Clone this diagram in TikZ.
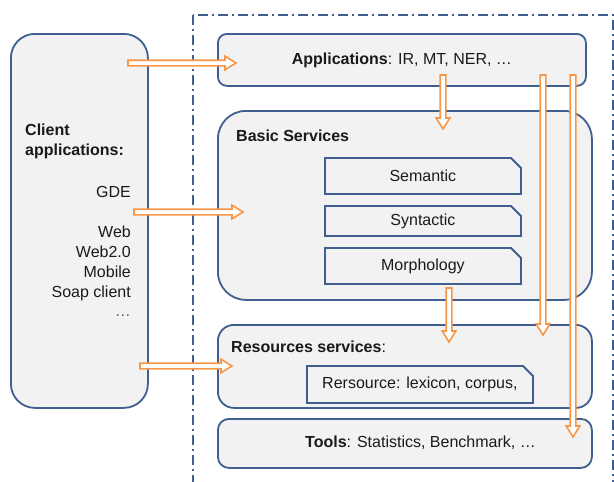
\documentclass[tikz,border=0pt]{standalone}
\usepackage{fontspec}
\setmainfont{Liberation Sans}
\usetikzlibrary{calc,shapes.misc}

\definecolor{bord}{HTML}{3E5F8F}
\definecolor{boxfill}{HTML}{F2F2F2}
\definecolor{arrowor}{HTML}{F79646}
\definecolor{ink}{HTML}{1A1A1A}

\tikzset{
  panel/.style={draw=bord, fill=boxfill, line width=1.8pt, rectangle, inner sep=0pt,
    anchor=north west, text=ink},
  module/.style={draw=bord, fill=boxfill, line width=1.8pt, chamfered rectangle,
    chamfered rectangle corners=north east, chamfered rectangle xsep=5pt,
    chamfered rectangle ysep=5pt, inner sep=0pt, anchor=north west, text=ink,
    font=\fontsize{16}{19}\selectfont},
  label/.style={inner sep=0pt, text=ink, font=\fontsize{16}{19}\selectfont},
  frame/.style={draw=bord, line width=1.4pt, dash pattern=on 10pt off 4pt on 2pt off 4pt},
  % hollow block arrow built between two points
  hollow/.style={draw=arrowor, fill=white, line width=1.6pt, line join=miter,
    to path={let \p1=(\tikztostart), \p2=(\tikztotarget), \p3=($(\p2)!11pt!(\p1)$) in
      ($(\p1)!2.8pt!90:(\p2)$) -- ($(\p3)!2.8pt!-90:(\p1)$) -- ($(\p3)!6.8pt!-90:(\p1)$)
      -- (\p2) -- ($(\p3)!6.8pt!90:(\p1)$) -- ($(\p3)!2.8pt!90:(\p1)$)
      -- ($(\p1)!2.8pt!-90:(\p2)$) -- cycle}}
}

\begin{document}
\begin{tikzpicture}[x=1pt, y=-1pt]
\useasboundingbox (0,0) rectangle (614,482);

% server side frame
\draw[frame] (193,15) rectangle (613,482.5);

% client side
\node[panel, rounded corners=24pt, minimum width=137pt, minimum height=374pt] (client) at (10,33) {};
\node[label, anchor=base west, font=\fontsize{16}{19}\selectfont\bfseries] (cl1) at (25,135) {Client};
\node[label, anchor=base west, font=\fontsize{16}{19}\selectfont\bfseries] (cl2) at (25,155) {applications:};
\node[label, anchor=base east] (gde) at (131,197) {GDE};
\node[label, anchor=base east] (web) at (131,237) {Web};
\node[label, anchor=base east] (web2) at (131,257) {Web2.0};
\node[label, anchor=base east] (mob) at (131,277) {Mobile};
\node[label, anchor=base east] (soap) at (131,297) {Soap client};
\node[label, anchor=base east, text=ink!70] (etc) at (131,316) {\ldots};

% server layers
\node[panel, rounded corners=9pt, minimum width=368pt, minimum height=52pt,
  font=\fontsize{16}{19}\selectfont] (apps) at (217,33) {\textbf{Applications}: IR, MT, NER, \ldots};
\node[panel, rounded corners=28pt, minimum width=374pt, minimum height=189pt] (basic) at (217,110) {};
\node[label, anchor=base west, font=\fontsize{16}{19}\selectfont\bfseries] (basict) at (236,141) {Basic Services};
\node[module, minimum width=196pt, minimum height=36pt] (sem) at (324,157) {Semantic};
\node[module, minimum width=196pt, minimum height=30pt] (syn) at (324,205) {Syntactic};
\node[module, minimum width=196pt, minimum height=36pt] (mor) at (324,247) {Morphology};

\node[panel, rounded corners=16pt, minimum width=374pt, minimum height=83pt] (res) at (217,324) {};
\node[label, anchor=base west] (rest) at (231,352) {\textbf{Resources services}:};
\node[module, minimum width=226pt, minimum height=37pt] (lex) at (306,365) {Rersource: lexicon, corpus,};

\node[panel, rounded corners=11pt, minimum width=374pt, minimum height=49pt] (tools) at (217,418) {};
\node[label, anchor=base west] (toolst) at (305,447) {\textbf{Tools}: Statistics, Benchmark, \ldots};

% arrow end points
\coordinate (c1s) at (128,63);  \coordinate (c1e) at (236,63);
\coordinate (c2s) at (134,212); \coordinate (c2e) at (243,212);
\coordinate (c3s) at (140,366); \coordinate (c3e) at (232,366);
\coordinate (d1s) at (443,75);  \coordinate (d1e) at (443,129);
\coordinate (d2s) at (449,288); \coordinate (d2e) at (449,342);
\coordinate (d3s) at (543,75);  \coordinate (d3e) at (543,335);
\coordinate (d4s) at (573,75);  \coordinate (d4e) at (573,437);

% calls between layers
\draw[hollow] (c1s) to (c1e);
\draw[hollow] (c2s) to (c2e);
\draw[hollow] (c3s) to (c3e);
\draw[hollow] (d1s) to (d1e);
\draw[hollow] (d2s) to (d2e);
\draw[hollow] (d3s) to (d3e);
\draw[hollow] (d4s) to (d4e);
\end{tikzpicture}
\end{document}
